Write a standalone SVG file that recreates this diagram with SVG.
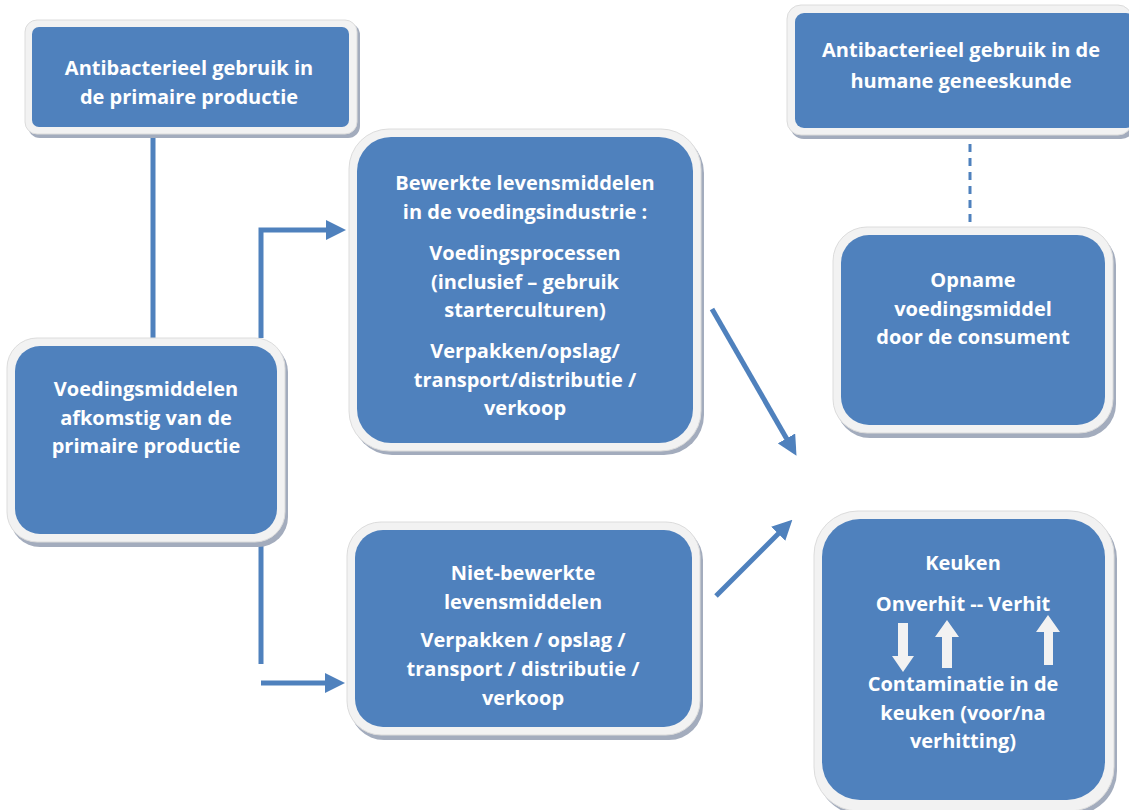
<svg xmlns="http://www.w3.org/2000/svg" width="1129" height="810" viewBox="0 0 1129 810">
<style>
.sh{fill:#a3acbd}
.ou{fill:#f2f2f2;stroke:#dcdcdc;stroke-width:1}
.bl{fill:#4f81bd}
.t{font-family:"Open Sans",Lato,sans-serif;font-weight:bold;font-size:20px;fill:#ffffff;text-anchor:middle}
.c{stroke:#4f81bd;stroke-width:5;fill:none}
</style>
<defs>
<marker id="ah" markerWidth="4" markerHeight="4" refX="2.2" refY="2" orient="auto" markerUnits="strokeWidth">
<path d="M0,0 L4,2 L0,4 Z" fill="#4f81bd"/>
</marker>
</defs>
<rect width="1129" height="810" fill="#ffffff"/>

<g id="connectors">
<line class="c" x1="153" y1="128" x2="153" y2="340"/>
<polyline class="c" points="261,338 261,230 337,230" marker-end="url(#ah)"/>
<line class="c" x1="261" y1="540" x2="261" y2="664"/>
<line class="c" x1="261" y1="683" x2="336" y2="683" marker-end="url(#ah)"/>
<line class="c" x1="712" y1="309" x2="792" y2="448" marker-end="url(#ah)"/>
<line class="c" x1="716" y1="596" x2="786" y2="526" marker-end="url(#ah)"/>
<line x1="970" y1="130" x2="970" y2="230" stroke="#4f81bd" stroke-width="3" stroke-dasharray="8,6"/>
</g>

<g id="n1">
<rect class="sh" x="28" y="23" width="332" height="115" rx="12"/>
<rect class="ou" x="25" y="20" width="332" height="114" rx="12"/>
<rect class="bl" x="32" y="27" width="317" height="100" rx="7"/>
<text class="t" x="189" y="75">Antibacterieel gebruik in</text>
<text class="t" x="189" y="104">de primaire productie</text>
</g>

<g id="n2">
<rect class="sh" x="790" y="9" width="345" height="130" rx="14"/>
<rect class="ou" x="787" y="5" width="345" height="130" rx="14"/>
<rect class="bl" x="795" y="13" width="340" height="115" rx="9"/>
<text class="t" x="961" y="57">Antibacterieel gebruik in de</text>
<text class="t" x="961" y="88">humane geneeskunde</text>
</g>

<g id="n3">
<rect class="sh" x="836" y="231" width="280" height="207" rx="34"/>
<rect class="ou" x="833" y="227" width="280" height="206" rx="34"/>
<rect class="bl" x="841" y="235" width="264" height="190" rx="28"/>
<text class="t" x="973" y="287">Opname</text>
<text class="t" x="973" y="316">voedingsmiddel</text>
<text class="t" x="973" y="344">door de consument</text>
</g>

<g id="n4">
<rect class="sh" x="10" y="342" width="278" height="205" rx="30"/>
<rect class="ou" x="7" y="338" width="278" height="204" rx="30"/>
<rect class="bl" x="15" y="346" width="262" height="188" rx="25"/>
<text class="t" x="146" y="396">Voedingsmiddelen</text>
<text class="t" x="146" y="425">afkomstig van de</text>
<text class="t" x="146" y="453">primaire productie</text>
</g>

<g id="n5">
<rect class="sh" x="352" y="133" width="352" height="322" rx="40"/>
<rect class="ou" x="349" y="129" width="352" height="322" rx="40"/>
<rect class="bl" x="357" y="137" width="336" height="306" rx="34"/>
<text class="t" x="525" y="190">Bewerkte levensmiddelen</text>
<text class="t" x="525" y="219">in de voedingsindustrie :</text>
<text class="t" x="525" y="260">Voedingsprocessen</text>
<text class="t" x="525" y="289">(inclusief – gebruik</text>
<text class="t" x="525" y="317">starterculturen)</text>
<text class="t" x="525" y="358">Verpakken/opslag/</text>
<text class="t" x="525" y="387">transport/distributie /</text>
<text class="t" x="525" y="415">verkoop</text>
</g>

<g id="n6">
<rect class="sh" x="350" y="526" width="353" height="214" rx="34"/>
<rect class="ou" x="347" y="522" width="353" height="213" rx="34"/>
<rect class="bl" x="355" y="530" width="337" height="197" rx="28"/>
<text class="t" x="523" y="580">Niet-bewerkte</text>
<text class="t" x="523" y="609">levensmiddelen</text>
<text class="t" x="523" y="647">Verpakken / opslag /</text>
<text class="t" x="523" y="676">transport / distributie /</text>
<text class="t" x="523" y="705">verkoop</text>
</g>

<g id="n7">
<rect class="sh" x="817" y="515" width="300" height="300" rx="44"/>
<rect class="ou" x="814" y="511" width="300" height="300" rx="44"/>
<rect class="bl" x="822" y="519" width="283" height="281" rx="38"/>
<text class="t" x="963" y="570">Keuken</text>
<text class="t" x="963" y="611">Onverhit -- Verhit</text>
<text class="t" x="963" y="691">Contaminatie in de</text>
<text class="t" x="963" y="720">keuken (voor/na</text>
<text class="t" x="963" y="748">verhitting)</text>
<path d="M898,623 H908 V656 H914 L903,672 L892,656 H898 Z" fill="#f2f2f2"/>
<path d="M942,668 H952 V637 H959 L947,620 L935,637 H942 Z" fill="#f2f2f2"/>
<path d="M1044,665 H1053 V632 H1060 L1048,615 L1036,632 H1044 Z" fill="#f2f2f2"/>
</g>
</svg>
